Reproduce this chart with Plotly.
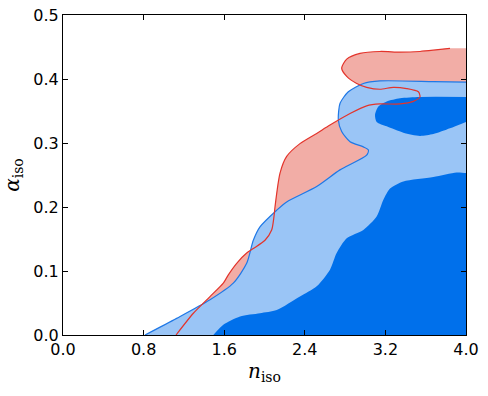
import plotly.graph_objects as go

# outer (light blue) contour line, left edge from bottom to top right
blue_x = [0.814, 1.128, 1.459, 1.690, 1.823, 1.889, 1.955, 2.121, 2.220, 2.518,
          2.749, 3.014, 3.031, 2.981, 2.849, 2.766, 2.733, 2.750, 2.832, 2.981,
          3.146, 3.676, 4.0]
blue_y = [0.0, 0.026, 0.055, 0.081, 0.112, 0.148, 0.169, 0.195, 0.208, 0.232,
          0.258, 0.281, 0.289, 0.294, 0.302, 0.318, 0.336, 0.362, 0.380, 0.393,
          0.397, 0.396, 0.395]

# inner (dark blue) contour, lower part
dark_x = [1.492, 1.591, 1.757, 1.955, 2.121, 2.352, 2.518, 2.650, 2.716, 2.816,
          2.981, 3.113, 3.179, 3.246, 3.378, 3.676, 3.907, 4.0]
dark_y = [0.0, 0.016, 0.029, 0.034, 0.039, 0.060, 0.076, 0.102, 0.128, 0.151,
          0.164, 0.185, 0.211, 0.229, 0.240, 0.247, 0.254, 0.253]

# inner (dark blue) island near the top right
island_x = [4.0, 3.543, 3.345, 3.213, 3.130, 3.097, 3.113, 3.213, 3.378, 3.543,
            3.676, 3.841, 4.0]
island_y = [0.372, 0.372, 0.370, 0.365, 0.357, 0.344, 0.333, 0.326, 0.316, 0.311,
            0.314, 0.323, 0.333]

# red contour line
red_x = [1.122, 1.294, 1.459, 1.591, 1.641, 1.724, 1.823, 1.889, 2.005, 2.071,
         2.094, 2.104, 2.154, 2.220, 2.352, 2.518, 2.650, 2.849, 3.014, 3.146,
         3.345, 3.477, 3.543, 3.527, 3.411, 3.279, 3.146, 3.014, 2.915, 2.816,
         2.766, 2.816, 2.948, 3.146, 3.345, 3.543, 3.676, 3.841]
red_y = [0.0, 0.034, 0.060, 0.081, 0.094, 0.112, 0.128, 0.135, 0.148, 0.164,
         0.185, 0.200, 0.253, 0.279, 0.299, 0.315, 0.328, 0.346, 0.358, 0.361,
         0.361, 0.365, 0.372, 0.380, 0.385, 0.387, 0.384, 0.387, 0.393, 0.404,
         0.417, 0.431, 0.440, 0.443, 0.442, 0.443, 0.445, 0.448]

x_ticks = [0.0, 0.8, 1.6, 2.4, 3.2, 4.0]
y_ticks = [0.0, 0.1, 0.2, 0.3, 0.4, 0.5]
x_max, y_max = 4.0, 0.5

red_fill = '#f2ada6'
red_line = '#e3342b'
light_blue = '#9ac5f6'
dark_blue = '#0070eb'
blue_line = '#1f78e6'

SMOOTH = 0.7


def closed(xs, ys):
    # close the contour along the right and bottom edges of the plot
    px = list(xs)
    py = list(ys)
    if py[-1] != 0.0:
        px += [x_max + 0.05, x_max + 0.05]
        py += [py[-1], -0.01]
    px += [px[0]]
    py += [-0.01]
    return px, py


def fill_trace(xs, ys, color):
    return go.Scatter(x=xs, y=ys, fill='toself', fillcolor=color, mode='lines',
                      line=dict(width=0, shape='spline', smoothing=SMOOTH),
                      hoverinfo='skip')


def line_trace(xs, ys, color):
    return go.Scatter(x=xs, y=ys, mode='lines', hoverinfo='skip',
                      line=dict(color=color, width=1.2, shape='spline',
                                smoothing=SMOOTH))


fig = go.Figure()

rx, ry = closed(red_x + [x_max + 0.05], red_y + [red_y[-1]])
fig.add_trace(fill_trace(rx, ry, red_fill))

bx, by = closed(blue_x, blue_y)
fig.add_trace(fill_trace(bx, by, light_blue))

dx, dy = closed(dark_x, dark_y)
fig.add_trace(fill_trace(dx, dy, dark_blue))

fig.add_trace(fill_trace(island_x, island_y, dark_blue))

fig.add_trace(line_trace(blue_x, blue_y, blue_line))
fig.add_trace(line_trace(red_x, red_y, red_line))

axis_style = dict(
    showgrid=False, zeroline=False, showline=True, linecolor='black',
    linewidth=1, mirror='allticks', ticks='inside', ticklen=5,
    tickcolor='black', ticklabeloverflow='allow',
    tickfont=dict(family='DejaVu Sans', size=16, color='black'),
)

fig.update_xaxes(range=[0, x_max], tickvals=x_ticks,
                 ticktext=[f'{v:.1f}' for v in x_ticks],
                 title=dict(text='<i>n</i><sub>iso</sub>', standoff=5,
                            font=dict(family='DejaVu Serif', size=20,
                                      color='black')),
                 **axis_style)
fig.update_yaxes(range=[0, y_max], tickvals=y_ticks,
                 ticktext=[f'{v:.1f}' for v in y_ticks],
                 title=dict(text='<i>α</i><sub>iso</sub>', standoff=13,
                            font=dict(family='DejaVu Serif', size=20,
                                      color='black')),
                 **axis_style)

fig.update_layout(
    width=488, height=396,
    margin=dict(l=63, r=22, t=15, b=61, autoexpand=False),
    paper_bgcolor='white', plot_bgcolor='white',
    showlegend=False,
)

# drop the default page margin so the figure sits at the window's corner
fig.write_html("out.html", config={'displayModeBar': False},
               post_script="document.body.style.margin='0';")
